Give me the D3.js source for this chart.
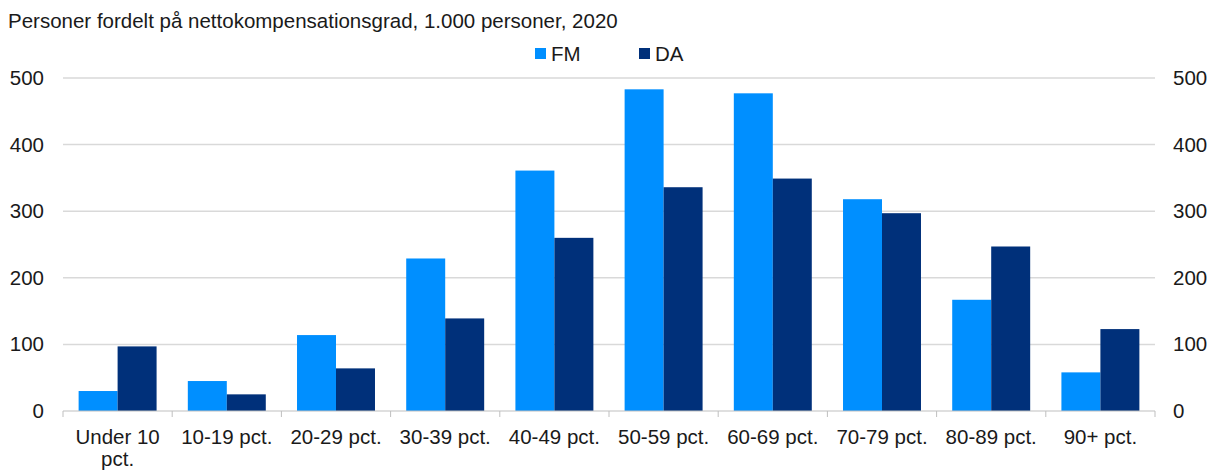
<!DOCTYPE html>
<html><head><meta charset="utf-8">
<script src="https://cdn.jsdelivr.net/npm/d3@7"></script>
<style>body{margin:0;background:#fff}svg{display:block;font-family:"Liberation Sans",Arial,sans-serif}</style>
</head><body>
<svg id="c" width="1211" height="470"></svg>
<script>
const categories = [["Under 10","pct."],["10-19 pct."],["20-29 pct."],["30-39 pct."],["40-49 pct."],["50-59 pct."],["60-69 pct."],["70-79 pct."],["80-89 pct."],["90+ pct."]];
const seriesNames = ["FM","DA"];
const fmValues = [30, 45, 114, 229, 361, 483, 477, 318, 167, 58];
const daValues = [97, 25, 64, 139, 260, 336, 349, 297, 247, 123];
const yTicks = [0,100,200,300,400,500];
const colors = {FM:"#008FFF", DA:"#00307A"};
const title = "Personer fordelt på nettokompensationsgrad, 1.000 personer, 2020";

const FS = 20.5;
const svg = d3.select("#c");
const pL = 63, pR = 1155, pT = 78, pB = 411;
const x = d3.scaleBand().domain(d3.range(categories.length)).range([pL,pR]).paddingInner(0.286).paddingOuter(0.143);
const xs = d3.scaleBand().domain(seriesNames).range([0,x.bandwidth()]);
const y = d3.scaleLinear().domain([0,500]).range([pB,pT]);

// gridlines
svg.append("g").selectAll("line").data(yTicks.filter(d=>d>0)).join("line")
  .attr("x1",pL).attr("x2",pR).attr("y1",d=>y(d)).attr("y2",d=>y(d))
  .attr("stroke","#d9d9d9").attr("stroke-width",1.5);

// bars
const data = categories.map((c,i)=>({i, FM:fmValues[i], DA:daValues[i]}));
const g = svg.append("g").selectAll("g").data(data).join("g").attr("transform",d=>`translate(${x(d.i)},0)`);
g.selectAll("rect").data(d=>seriesNames.map(k=>({k,v:d[k]}))).join("rect")
  .attr("x",d=>xs(d.k)).attr("width",xs.bandwidth())
  .attr("y",d=>y(d.v)).attr("height",d=>y(0)-y(d.v))
  .attr("fill",d=>colors[d.k]);

// x axis baseline and ticks
const ax = svg.append("g");
ax.append("line").attr("x1",pL).attr("x2",pR).attr("y1",pB).attr("y2",pB).attr("stroke","#bfbfbf").attr("stroke-width",1);
ax.selectAll("line.t").data(d3.range(categories.length+1)).join("line").attr("class","t")
  .attr("x1",i=>pL+i*(pR-pL)/categories.length).attr("x2",i=>pL+i*(pR-pL)/categories.length)
  .attr("y1",pB).attr("y2",pB+6).attr("stroke","#bfbfbf");

// x labels
const xl = svg.append("g").selectAll("text").data(categories).join("text")
  .attr("text-anchor","middle").attr("font-size",FS).attr("fill","#1a1a1a")
  .attr("x",(d,i)=>x(i)+x.bandwidth()/2).attr("y",444);
xl.selectAll("tspan").data(d=>d).join("tspan")
  .attr("x",function(){return this.parentNode.getAttribute("x");})
  .attr("dy",(d,i)=>i===0?0:22).text(d=>d);

// y labels
svg.append("g").selectAll("text").data(yTicks).join("text")
  .attr("x",44).attr("y",d=>y(d)+7).attr("text-anchor","end").attr("font-size",FS).attr("fill","#1a1a1a").text(d=>d);
svg.append("g").selectAll("text").data(yTicks).join("text")
  .attr("x",1173).attr("y",d=>y(d)+7).attr("text-anchor","start").attr("font-size",FS).attr("fill","#1a1a1a").text(d=>d);

// title
svg.append("text").attr("x",8).attr("y",28).attr("font-size",FS).attr("fill","#1a1a1a").text(title);

// legend
const legX = {FM:535, DA:639};
const lg = svg.append("g").selectAll("g").data(seriesNames).join("g").attr("transform",d=>`translate(${legX[d]},0)`);
lg.append("rect").attr("x",0).attr("y",48).attr("width",11).attr("height",11).attr("fill",d=>colors[d]);
lg.append("text").attr("x",16).attr("y",61).attr("font-size",FS).attr("fill","#1a1a1a").text(d=>d);
</script>
</body></html>
